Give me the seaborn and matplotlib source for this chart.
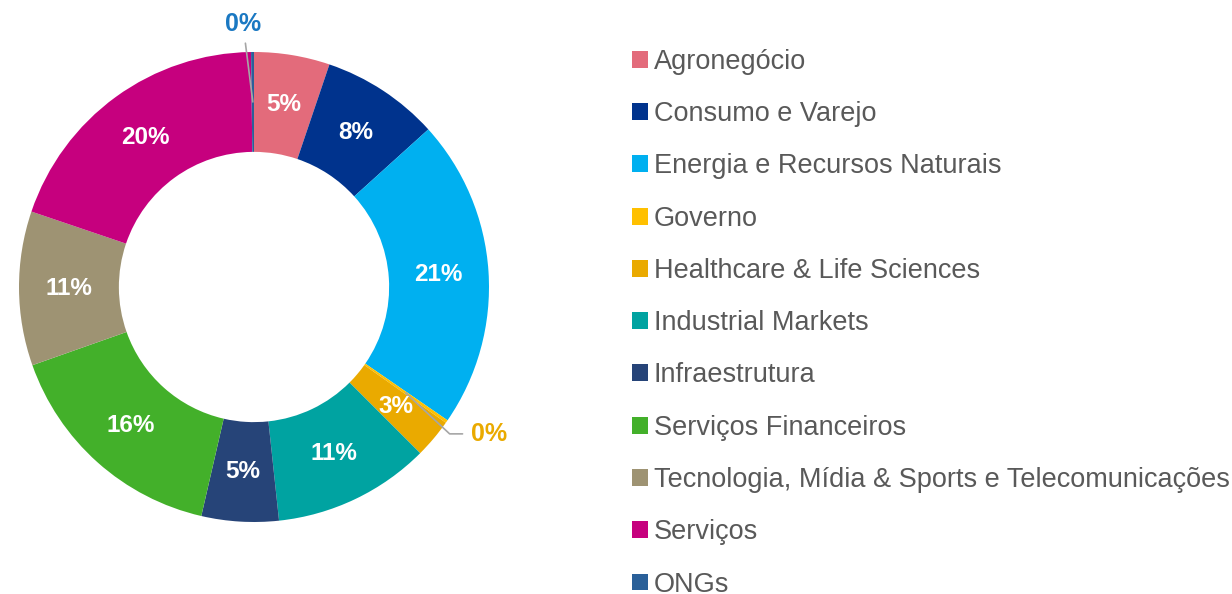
import numpy as np
import matplotlib
matplotlib.use("Agg")
import matplotlib.pyplot as plt
import seaborn as sns
from matplotlib.patches import Patch

# data (share of total, %)
setores = ["Agronegócio", "Consumo e Varejo", "Energia e Recursos Naturais", "Governo",
           "Healthcare & Life Sciences", "Industrial Markets", "Infraestrutura",
           "Serviços Financeiros", "Tecnologia, Mídia & Sports e Telecomunicações",
           "Serviços", "ONGs"]
valores = [5.2, 8.1, 21.3, 0.2, 2.7, 10.8, 5.3, 16.0, 10.6, 19.6, 0.2]
cores = ["#E36B7B", "#00338D", "#00B0F0", "#FFC000", "#EAAA00", "#00A3A1",
         "#264478", "#43B02A", "#9E9373", "#C6007E", "#2A6099"]

sns.set_theme(style="white")
plt.rcParams["font.family"] = ["Liberation Sans", "DejaVu Sans"]
paleta = sns.color_palette(cores)

fig = plt.figure(figsize=(12.32, 5.94), dpi=100)
ax = fig.add_axes([19 / 1232, 72 / 594, 470 / 1232, 470 / 594])

largura = 0.425
wedges, _ = ax.pie(valores, colors=paleta, startangle=90, counterclock=False,
                   radius=1, wedgeprops=dict(width=largura, linewidth=0))
ax.set_xlim(-1, 1)
ax.set_ylim(-1, 1)
ax.set_aspect("equal")
ax.axis("off")

r_mid = 1 - largura / 2
cinza = "#A6A6A6"
for w, v, nome in zip(wedges, valores, setores):
    ang = np.deg2rad((w.theta1 + w.theta2) / 2)
    x, y = r_mid * np.cos(ang), r_mid * np.sin(ang)
    txt = f"{round(v):.0f}%"
    if nome == "ONGs":
        ax.annotate(txt, xy=(x, y), xytext=(-0.047, 1.12), ha="center", va="center",
                    fontsize=18, fontweight="bold", color="#1A78C2", annotation_clip=False,
                    arrowprops=dict(arrowstyle="-", color=cinza, lw=1.2, shrinkA=3, shrinkB=0))
    elif nome == "Governo":
        ax.annotate(txt, xy=(x, y), xytext=(0.925, -0.625), ha="left", va="center",
                    fontsize=18, fontweight="bold", color="#EAAA00", annotation_clip=False,
                    arrowprops=dict(arrowstyle="-", color=cinza, lw=1.2, shrinkA=4, shrinkB=0,
                                    connectionstyle="angle,angleA=0,angleB=137,rad=0"))
    else:
        ax.text(x, y, txt, ha="center", va="center", fontsize=17.5,
                fontweight="bold", color="white")

handles = [Patch(facecolor=c, edgecolor="none") for c in paleta]
fig.legend(handles, setores, loc="upper left", bbox_to_anchor=(621 / 1232, 1 - 38 / 594),
           frameon=False, fontsize=19.5, labelcolor="#595959",
           handlelength=0.58, handleheight=0.58, handletextpad=0.22,
           labelspacing=0.97, borderaxespad=0)

fig.savefig("out.png", dpi=100)
